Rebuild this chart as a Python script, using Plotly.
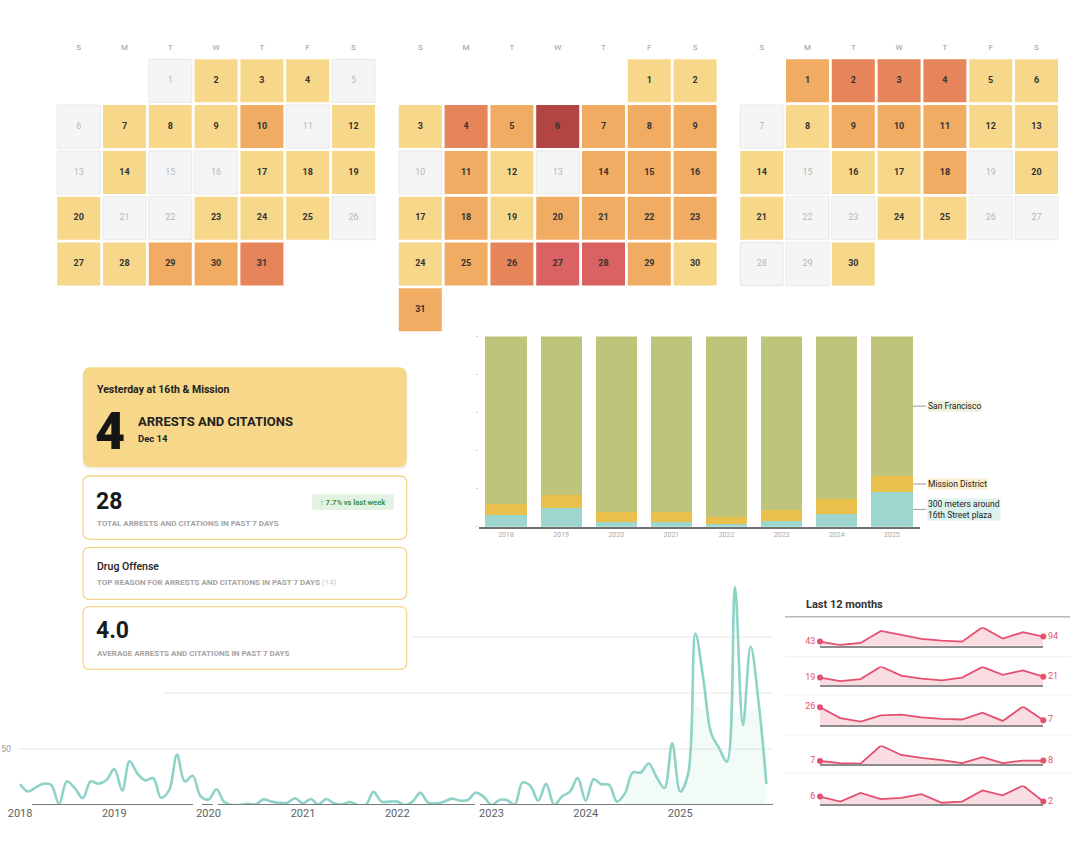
import calendar
import pandas as pd
import plotly.graph_objects as go

W, H = 1090, 844


def px(x):
    return x / W


def py(y):
    return 1 - y / H


# ------------------------------------------------------------------ data
cal_months = [(2025, 7), (2025, 8), (2025, 9)]
jul_levels = [0, 1, 1, 1, 0, 0, 1, 1, 1, 2, 0, 1, 0, 1, 0, 0, 1, 1, 1, 1, 0, 0, 1, 1, 1, 0, 1, 1, 2, 2, 3]
aug_levels = [1, 1, 1, 3, 2, 5, 2, 2, 2, 0, 2, 1, 0, 2, 2, 2, 1, 2, 1, 2, 2, 2, 2, 1, 2, 3, 4, 4, 2, 1, 2]
sep_levels = [2, 3, 3, 3, 1, 1, 0, 1, 2, 2, 2, 1, 1, 1, 0, 1, 1, 2, 0, 1, 1, 0, 0, 1, 1, 0, 0, 0, 0, 1]
weekday_letters = ["S", "M", "T", "W", "T", "F", "S"]

bar_years = ["2018", "2019", "2020", "2021", "2022", "2023", "2024", "2025"]
plaza_pct = [6.3, 9.9, 2.3, 2.3, 1.6, 3.1, 6.6, 18.2]
mission_pct = [5.4, 7.0, 5.4, 5.4, 3.5, 5.6, 7.7, 8.5]
sf_pct = [88.3, 83.1, 92.3, 92.3, 94.9, 91.3, 85.7, 73.3]

line_values = [
    18.5, 12, 15.5, 19, 18, 1, 21, 15, 6, 21, 19, 22,
    32, 13, 39, 28, 22, 24, 6.5, 13, 45, 21, 26, 8,
    5, 14, 3, 0, 0, 1, 0.5, 5, 3, 2, 2, 6,
    1.5, 5.4, 0.3, 5.4, 1.5, 0.3, 2.7, 0, 0, 11.7, 3, 3,
    3, 0, 3, 10.8, 2, 1.5, 3, 5.7, 3.9, 4.5, 11, 7.5,
    0, 4.5, 4.5, 0.3, 20, 17, 3.9, 18.9, 0, 7.5, 12, 24,
    3.9, 23, 18.6, 18, 3, 10.4, 29, 29, 37, 25, 15, 55,
    12, 28, 153, 112, 64, 50.6, 38.7, 194.5, 71.5, 141.5, 91, 18.8,
]
line_dates = pd.date_range("2018-01-01", periods=len(line_values), freq="MS")
shade_values = [10, 28, 28, 34, 22, 12, 25, 10, 25, 88, 85, 60, 48, 43, 82, 80, 86, 84, 19]
shade_dates = line_dates[-len(shade_values):]
year_ticks = ["2018", "2019", "2020", "2021", "2022", "2023", "2024", "2025"]

spark_1 = [43, 7, 28, 153, 111, 70, 52, 42, 191, 73, 139, 94]
spark_2 = [19, 10, 15, 47, 24, 16, 12, 19, 46, 26, 37, 21]
spark_3 = [26, 10, 5, 14, 15, 11, 9, 8, 18, 6, 27, 7]
spark_4 = [7, 2, 1, 43, 21, 14, 9, 2, 16, 2, 8, 8]
spark_5 = [6, 2, 9, 4, 5, 8, 1, 2, 11, 7, 15, 2]

# ------------------------------------------------------------------ styles
FONT = "Roboto, 'Open Sans', sans-serif"
level_colors = ["#f5f5f5", "#f7d88b", "#f0ac63", "#e6845a", "#db6262", "#b24542"]
SF_C, MI_C, PL_C = "#bec47a", "#e8c04b", "#9dd6ce"
LINE_C = "#8ed3c8"
PINK = "#e4506f"

fig = go.Figure()
layout_axes = {}

# ------------------------------------------------------------------ calendars
cal_levels = [jul_levels, aug_levels, sep_levels]
cal_first_center = [78.7, 420.3, 761.7]
STEP = 45.8
CAL_TOP = 57.9  # top edge of first row of cells
for i, ((yr, mo), levels) in enumerate(zip(cal_months, cal_levels)):
    sfx = "" if i == 0 else str(i + 1)
    first = (calendar.monthrange(yr, mo)[0] + 1) % 7
    zx, zy, zt, nx, ny, nt, nc = [], [], [], [], [], [], []
    for d, lv in enumerate(levels, 1):
        k = first + d - 1
        c, r = k % 7, k // 7
        if lv == 0:
            zx.append(c); zy.append(r); zt.append(str(d))
        else:
            nx.append(c); ny.append(r); nt.append(str(d)); nc.append(level_colors[lv])
    fig.add_trace(go.Scatter(
        x=zx, y=zy, text=zt, mode="markers+text", xaxis="x" + sfx, yaxis="y" + sfx,
        marker=dict(symbol="square", size=43, color=level_colors[0], line=dict(color="#e8e8e8", width=1)),
        textfont=dict(family=FONT, size=9, color="#b8b8b8"),
        hoverinfo="skip", showlegend=False, cliponaxis=False))
    fig.add_trace(go.Scatter(
        x=nx, y=ny, text=nt, mode="markers+text", xaxis="x" + sfx, yaxis="y" + sfx,
        marker=dict(symbol="square", size=43, color=nc, line=dict(width=0)),
        textfont=dict(family=FONT, size=9, color="#333333", weight=700),
        hoverinfo="skip", showlegend=False, cliponaxis=False))
    fig.add_trace(go.Scatter(
        x=list(range(7)), y=[-0.71] * 7, text=weekday_letters, mode="text",
        xaxis="x" + sfx, yaxis="y" + sfx,
        textfont=dict(family=FONT, size=8, color="#9a9a9a"),
        hoverinfo="skip", showlegend=False, cliponaxis=False))
    c0 = cal_first_center[i]
    layout_axes["xaxis" + sfx] = dict(domain=[px(c0 - STEP / 2), px(c0 + 6.5 * STEP)], anchor="y" + sfx,
                                      range=[-0.5, 6.5], visible=False, fixedrange=True)
    layout_axes["yaxis" + sfx] = dict(domain=[py(CAL_TOP + 6 * STEP), py(CAL_TOP - 0.5 * STEP)],
                                      anchor="x" + sfx, range=[5.5, -1.0], visible=False, fixedrange=True)

# ------------------------------------------------------------------ stacked bars
for name, vals, col in [("300 meters around 16th Street plaza", plaza_pct, PL_C),
                        ("Mission District", mission_pct, MI_C),
                        ("San Francisco", sf_pct, SF_C)]:
    fig.add_trace(go.Bar(x=bar_years, y=vals, name=name, marker=dict(color=col, line=dict(width=0)),
                         xaxis="x4", yaxis="y4", showlegend=False, hoverinfo="skip"))
layout_axes["xaxis4"] = dict(domain=[px(478.5), px(919.5)], anchor="y4", type="category",
                             showline=True, linecolor="#707070", linewidth=2, ticks="",
                             tickfont=dict(family=FONT, size=7, color="#a8a8a8"), fixedrange=True)
layout_axes["yaxis4"] = dict(domain=[py(526.7), py(336.4)], anchor="x4", range=[0, 100], showticklabels=False,
                             ticks="outside", ticklen=2, tickcolor="#d5d5d5", dtick=20,
                             showgrid=False, zeroline=False, fixedrange=True)

last = len(bar_years) - 1
mid_pl = plaza_pct[last] / 2
mid_mi = plaza_pct[last] + mission_pct[last] / 2
mid_sf = plaza_pct[last] + mission_pct[last] + sf_pct[last] / 2
bar_labels = [("San Francisco", mid_sf, "#edf0db"),
              ("Mission District", mid_mi, "#fbefcf"),
              ("300 meters around<br>16th Street plaza", mid_pl, "#dcf2ee")]

# ------------------------------------------------------------------ line chart
fig.add_trace(go.Scatter(x=shade_dates, y=shade_values, mode="lines", line=dict(width=0, shape="spline"),
                         fill="tozeroy", fillcolor="rgba(142,211,200,0.10)",
                         xaxis="x5", yaxis="y5", showlegend=False, hoverinfo="skip"))
fig.add_trace(go.Scatter(x=line_dates, y=line_values, mode="lines",
                         line=dict(color=LINE_C, width=2.6, shape="spline", smoothing=1.0),
                         xaxis="x5", yaxis="y5", showlegend=False, hoverinfo="skip"))
layout_axes["xaxis5"] = dict(domain=[px(18), px(785)], anchor="y5", type="date",
                             range=["2017-12-24", "2026-02-11"],
                             tickvals=[y + "-01-01" for y in year_ticks], ticktext=year_ticks,
                             showgrid=False, zeroline=False, showline=False, ticks="",
                             tickfont=dict(family=FONT, size=11, color="#5f5f5f"), fixedrange=True)
layout_axes["yaxis5"] = dict(domain=[py(805), py(570)], anchor="x5", range=[0, 209.8],
                             showgrid=False, zeroline=False, showline=False, ticks="",
                             tickvals=[50], ticktext=["50"], ticklabelstandoff=6, automargin=False,
                             tickfont=dict(family=FONT, size=9, color="#a0a0a0"), fixedrange=True)

# ------------------------------------------------------------------ sparklines
spark_rows = [spark_1, spark_2, spark_3, spark_4, spark_5]
spark_base = [645.7, 685.0, 725.0, 764.0, 804.0]
for j, vals in enumerate(spark_rows):
    n = 6 + j
    xs = list(range(len(vals)))
    fig.add_trace(go.Scatter(x=xs, y=vals, mode="lines", fill="tozeroy",
                             fillcolor="rgba(236,120,145,0.25)", line=dict(color=PINK, width=1.8),
                             xaxis=f"x{n}", yaxis=f"y{n}", showlegend=False, hoverinfo="skip",
                             cliponaxis=False))
    fig.add_trace(go.Scatter(x=[xs[0], xs[-1]], y=[vals[0], vals[-1]], mode="markers+text",
                             text=[str(vals[0]), str(vals[-1])], textposition=["middle left", "middle right"],
                             marker=dict(color=PINK, size=6), textfont=dict(family=FONT, size=9, color=PINK),
                             xaxis=f"x{n}", yaxis=f"y{n}", showlegend=False, hoverinfo="skip",
                             cliponaxis=False))
    b = spark_base[j]
    layout_axes[f"xaxis{n}"] = dict(domain=[px(820), px(1043.3)], anchor=f"y{n}", range=[0, len(vals) - 1],
                                    showline=True, linecolor="#8c8c8c", linewidth=2, showgrid=False,
                                    zeroline=False, showticklabels=False, ticks="", fixedrange=True)
    layout_axes[f"yaxis{n}"] = dict(domain=[py(b), py(b - 18.5)], anchor=f"x{n}", range=[0, max(vals)],
                                    visible=False, fixedrange=True)

# ------------------------------------------------------------------ shapes
shapes = []


def rrect(x0, y0, x1, y1, r):
    X, Y = px, py
    return (f"M{X(x0 + r)},{Y(y0)} L{X(x1 - r)},{Y(y0)} Q{X(x1)},{Y(y0)} {X(x1)},{Y(y0 + r)} "
            f"L{X(x1)},{Y(y1 - r)} Q{X(x1)},{Y(y1)} {X(x1 - r)},{Y(y1)} L{X(x0 + r)},{Y(y1)} "
            f"Q{X(x0)},{Y(y1)} {X(x0)},{Y(y1 - r)} L{X(x0)},{Y(y0 + r)} Q{X(x0)},{Y(y0)} {X(x0 + r)},{Y(y0)} Z")


# line chart gridlines
for val, xstart in [(50, 18), (100, 163), (150, 413)]:
    shapes.append(dict(type="line", xref="paper", yref="y5", x0=px(xstart), x1=px(773), y0=val, y1=val,
                       line=dict(color="#e6e6e6", width=1), layer="below"))
# line chart baseline segments
for a, b in [(32, 193), (202, 213), (218, 475), (480, 773)]:
    shapes.append(dict(type="line", xref="paper", yref="y5", x0=px(a), x1=px(b), y0=0, y1=0,
                       line=dict(color="#7a7a7a", width=2), layer="above"))
# sparkline panel lines
shapes.append(dict(type="line", xref="paper", yref="paper", x0=px(785), x1=px(1070), y0=py(616.7),
                   y1=py(616.7), line=dict(color="#b8b8b8", width=1.5)))
for yy in [656.7, 695.0, 735.0, 773.3]:
    shapes.append(dict(type="line", xref="paper", yref="paper", x0=px(785), x1=px(1070), y0=py(yy),
                       y1=py(yy), line=dict(color="#efefef", width=1), layer="below"))
# bar label leader lines
for _, yv, _c in bar_labels:
    shapes.append(dict(type="line", xref="paper", yref="y4", x0=px(913), x1=px(926), y0=yv, y1=yv,
                       line=dict(color="#9a9a9a", width=1)))
# KPI cards
shapes.append(dict(type="path", xref="paper", yref="paper", path=rrect(82, 368, 408, 470, 9),
                   fillcolor="rgba(0,0,0,0.04)", line=dict(width=0)))
shapes.append(dict(type="path", xref="paper", yref="paper", path=rrect(83, 367.3, 406.7, 467.3, 8),
                   fillcolor="#f7d88b", line=dict(width=0)))
for y0, y1 in [(476.0, 539.3), (547.3, 599.3), (606.7, 669.3)]:
    shapes.append(dict(type="path", xref="paper", yref="paper", path=rrect(83, y0, 406.7, y1, 7),
                       fillcolor="#ffffff", line=dict(color="#f5d58c", width=1.3)))
shapes.append(dict(type="path", xref="paper", yref="paper", path=rrect(312, 494, 394, 510, 3),
                   fillcolor="#e3f3e3", line=dict(width=0)))

# ------------------------------------------------------------------ annotations
ann = []


def text(x, y, s, size, color="#1e1e1e", weight=400, anchor="left"):
    ann.append(dict(xref="paper", yref="paper", x=px(x), y=py(y), text=s, showarrow=False,
                    xanchor=anchor, yanchor="middle", font=dict(family=FONT, size=size, color=color,
                                                                 weight=weight)))


text(95, 389.5, "Yesterday at 16th & Mission", 10.5, weight=700)
text(93, 431, "4", 52, color="#151515", weight=900)
text(136, 421.5, "ARRESTS AND CITATIONS", 13, color="#222", weight=700)
text(136, 438.5, "Dec 14", 9.5, color="#222", weight=700)
text(94, 501.5, "28", 23, color="#1a1a1a", weight=700)
text(353, 502, "↑ 7.7% vs last week", 7.5, color="#3f9142", weight=700, anchor="center")
text(95, 523.5, "TOTAL ARRESTS AND CITATIONS IN PAST 7 DAYS", 8, color="#a3a3a3", weight=700)
text(95, 566, "Drug Offense", 10.5, color="#222", weight=500)
text(95, 582.5, "TOP REASON FOR ARRESTS AND CITATIONS IN PAST 7 DAYS "
                "<span style='color:#c8c8c8;font-weight:400'>(14)</span>", 8, color="#a3a3a3", weight=700)
text(94, 630.5, "4.0", 23, color="#1a1a1a", weight=700)
text(95, 653.3, "AVERAGE ARRESTS AND CITATIONS IN PAST 7 DAYS", 8, color="#a3a3a3", weight=700)
text(804, 604.3, "Last 12 months", 11, color="#333", weight=700)

for lab, yv, bg in bar_labels:
    ann.append(dict(xref="paper", yref="y4", x=px(926.5), y=yv, text=lab, showarrow=False, xanchor="left",
                    yanchor="middle", align="left", bgcolor=bg, borderpad=0,
                    font=dict(family=FONT, size=8.5, color="#222")))

fig.update_layout(
    width=W, height=H, margin=dict(l=0, r=0, t=0, b=0, autoexpand=False),
    paper_bgcolor="white", plot_bgcolor="rgba(0,0,0,0)",
    font=dict(family=FONT), barmode="stack", bargap=0.25,
    shapes=shapes, annotations=ann, showlegend=False,
    **layout_axes,
)

fig.write_html("out.html", config={"displayModeBar": False},
               post_script="document.body.style.margin='0';document.body.style.overflow='hidden';")
